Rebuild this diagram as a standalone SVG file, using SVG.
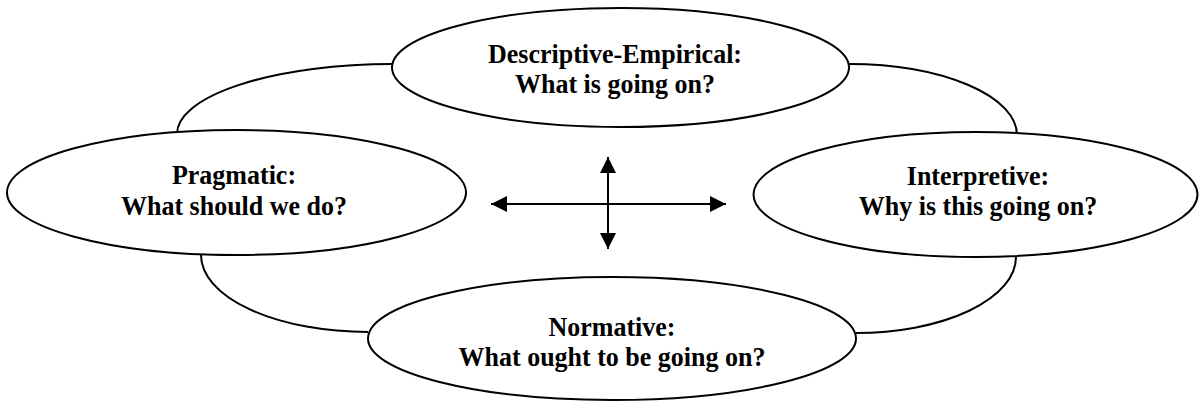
<svg xmlns="http://www.w3.org/2000/svg" width="1200" height="402" viewBox="0 0 1200 402">
<style>
.node{fill:#fff;stroke:#000;stroke-width:2}
.lbl{font-family:"Liberation Serif","Times New Roman",serif;font-weight:bold;font-size:26px;text-anchor:middle;fill:#000}
.conn{fill:none;stroke:#000;stroke-width:2}
</style>
<defs>
<marker id="ahs" viewBox="0 0 16 16" refX="16" refY="8" markerWidth="16" markerHeight="16" markerUnits="userSpaceOnUse" orient="auto-start-reverse">
<path d="M0,0 L16,8 L0,16 Z" fill="#000"/>
</marker>
</defs>
<g id="connectors">
<path class="conn" d="M393 64 A216 70 0 0 0 177 135"/>
<path class="conn" d="M849 64 A168 71 0 0 1 1017 135"/>
<path class="conn" d="M201 255 A167 77 0 0 0 368 332"/>
<path class="conn" d="M1016 257 A160 76 0 0 1 856 333"/>
<path class="conn" d="M491 204 L726 204" marker-start="url(#ahs)" marker-end="url(#ahs)"/>
<path class="conn" d="M608 157 L608 249" marker-start="url(#ahs)" marker-end="url(#ahs)"/>
</g>
<g id="node-descriptive">
<ellipse class="node" cx="620.5" cy="67.5" rx="228.5" ry="59.5"/>
<text class="lbl" transform="translate(615,63) scale(1,1.08)">Descriptive-Empirical:</text>
<text class="lbl" transform="translate(615,93) scale(1,1.08)">What is going on?</text>
</g>
<g id="node-pragmatic">
<ellipse class="node" cx="236.5" cy="192.5" rx="229.5" ry="62.5"/>
<text class="lbl" transform="translate(234,184) scale(1,1.08)">Pragmatic:</text>
<text class="lbl" transform="translate(234,215) scale(1,1.08)">What should we do?</text>
</g>
<g id="node-interpretive">
<ellipse class="node" cx="975.5" cy="194.5" rx="222" ry="62.5"/>
<text class="lbl" transform="translate(978,185) scale(1,1.08)">Interpretive:</text>
<text class="lbl" transform="translate(978,215) scale(1,1.08)">Why is this going on?</text>
</g>
<g id="node-normative">
<ellipse class="node" cx="612" cy="338.5" rx="244" ry="61.5"/>
<text class="lbl" transform="translate(612,336) scale(1,1.08)">Normative:</text>
<text class="lbl" transform="translate(612,366) scale(1,1.08)">What ought to be going on?</text>
</g>
</svg>
